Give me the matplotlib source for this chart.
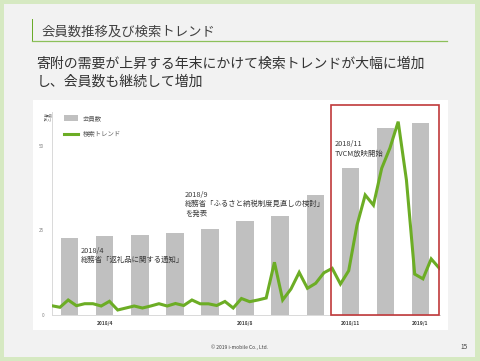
import matplotlib
matplotlib.use("Agg")
import matplotlib.pyplot as plt
import numpy as np
from matplotlib.patches import Rectangle
from matplotlib.lines import Line2D

plt.rcParams['font.family'] = ['Noto Sans CJK JP', 'DejaVu Sans']

# ---- data ----
months = ['2018/3', '2018/4', '2018/5', '2018/6', '2018/7', '2018/8',
          '2018/9', '2018/10', '2018/11', '2018/12', '2019/1']
members = [22.7, 23.4, 23.7, 24.4, 25.4, 27.8, 29.4, 35.5, 43.4, 55.4, 56.8]
trend = [2.75, 2.28, 4.44, 2.75, 3.34, 3.34, 2.66, 4.05, 1.48, 2.07,
         2.66, 2.07, 2.66, 3.34, 2.66, 3.40, 2.81, 4.44, 3.31, 3.31,
         2.81, 4.00, 2.07, 4.88, 3.94, 4.44, 5.03, 15.6, 4.44, 7.69,
         12.6, 7.90, 9.38, 12.5, 13.8, 9.17, 13.1, 26.5, 35.5, 32.5,
         43.4, 49.4, 57.2, 39.9, 12.1, 10.7, 16.6, 13.8]
xtick_labels = {'2018/4': 1, '2018/8': 5, '2018/11': 8, '2019/1': 10}
yticks = [0, 25, 50]
legend_labels = ['会員数', '検索トレンド']

W, H = 480, 361
fig = plt.figure(figsize=(W / 100, H / 100), dpi=100)
fig.patch.set_facecolor('#d6e9c2')

def fx(x):
    return x / W

def fy(y):
    return 1 - y / H

# slide background
fig.patches.append(Rectangle((fx(4), fy(357)), fx(471), 353 / H, transform=fig.transFigure,
                             facecolor='#f2f2f2', edgecolor='none', zorder=-3))
# white chart panel
fig.patches.append(Rectangle((fx(33), fy(329.5)), fx(448 - 33), (329.5 - 100) / H,
                             transform=fig.transFigure, facecolor='white', edgecolor='none', zorder=-2))

# title
fig.patches.append(Rectangle((fx(31.5), fy(41)), fx(1.8), 22 / H, transform=fig.transFigure,
                             facecolor='#6aab2a', edgecolor='none', zorder=1))
fig.lines.append(Line2D([fx(32), fx(447)], [fy(41.3), fy(41.3)], transform=fig.transFigure,
                        color='#8cc05a', lw=0.9))
fig.text(fx(41.5), fy(31.5), '会員数推移及び検索トレンド', fontsize=9.6, color='#404040',
         ha='left', va='center')
fig.text(fx(36.5), fy(63.3), '寄附の需要が上昇する年末にかけて検索トレンドが大幅に増加',
         fontsize=10, color='#333333', ha='left', va='center')
fig.text(fx(36.5), fy(81.7), 'し、会員数も継続して増加',
         fontsize=10, color='#333333', ha='left', va='center')

# axes
ax_left, ax_right, ax_bottom, ax_top = 52, 440, 315, 112.2
ax = fig.add_axes([fx(ax_left), fy(ax_bottom), (ax_right - ax_left) / W, (ax_bottom - ax_top) / H])
ax.set_facecolor('none')
ax.set_zorder(2)

x_bar = np.arange(len(months))
ax.bar(x_bar, members, width=0.486, color='#c0c0c0', zorder=2)

x_week = np.linspace(-0.523, 10.555, len(trend))
ax.plot(x_week, trend, color='#6cad25', lw=2.2, zorder=3, solid_joinstyle='miter')

ax.set_xlim(-0.514, 10.571)
ax.set_ylim(0, 60)
ax.set_yticks(yticks)
ax.set_yticklabels([str(v) for v in yticks], fontsize=3.3, color='#808080')
ax.set_xticks(list(xtick_labels.values()))
ax.set_xticklabels(list(xtick_labels.keys()), fontsize=3.5, color='#404040', fontweight='bold')
ax.tick_params(axis='both', length=0)
ax.tick_params(axis='y', pad=5.5)
ax.tick_params(axis='x', pad=4.0)
for s in ['top', 'right']:
    ax.spines[s].set_visible(False)
for s in ['left', 'bottom']:
    ax.spines[s].set_color('#d9d9d9')
    ax.spines[s].set_linewidth(0.7)

# red highlight box
ax.add_patch(Rectangle((7.457, 0), 10.534 - 7.457, 62.1, facecolor='none', edgecolor='#c0393b',
                       lw=1.2, clip_on=False, zorder=4))

# y axis title
fig.text(fx(48), fy(115), '会員数', fontsize=2.2, color='#595959', ha='center', va='center')
fig.text(fx(48), fy(120.7), '(万人)', fontsize=2.2, color='#595959', ha='center', va='center')

# legend (manual)
fig.patches.append(Rectangle((fx(64), fy(120.7)), fx(13.7), 5.7 / H, transform=fig.transFigure,
                             facecolor='#c0c0c0', edgecolor='none', zorder=5))
fig.lines.append(Line2D([fx(64), fx(77.7)], [fy(133.7), fy(133.7)], transform=fig.transFigure,
                        color='#6cad25', lw=2.2, zorder=5))
fig.text(fx(82.7), fy(118), legend_labels[0], fontsize=4.6, color='#595959', ha='left', va='center')
fig.text(fx(82.7), fy(133.7), legend_labels[1], fontsize=4.6, color='#595959', ha='left', va='center')

# annotations
ann_kw = dict(fontsize=5.3, color='#3a3a3a', ha='left', va='center', linespacing=1.25, zorder=6)
fig.text(fx(81), fy(255.5), '2018/4\n総務省「返礼品に関する通知」', **ann_kw)
fig.text(fx(185), fy(204), '2018/9\n総務省「ふるさと納税制度見直しの検討」\nを発表', **ann_kw)
fig.text(fx(335), fy(149.2), '2018/11\nTVCM放映開始', **ann_kw)

# footer
fig.text(fx(239.5), fy(347.3), '© 2019 i-mobile Co., Ltd.', fontsize=3.6, color='#404040',
         ha='center', va='center')
fig.text(fx(464), fy(347.3), '15', fontsize=4.6, color='#404040', ha='center', va='center')

fig.savefig('out.png', dpi=100, facecolor=fig.get_facecolor())
